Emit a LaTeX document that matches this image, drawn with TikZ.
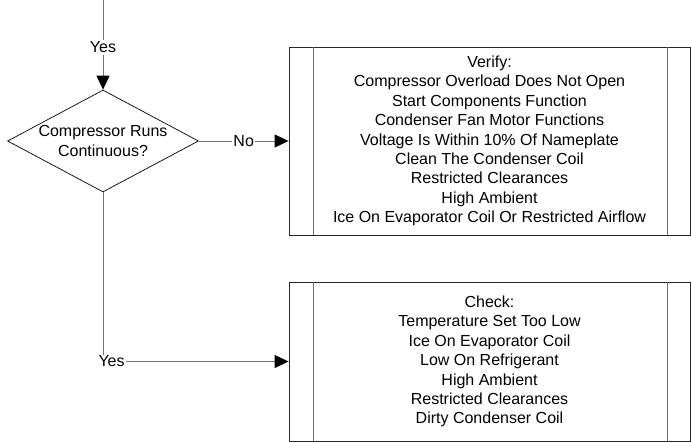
\documentclass[tikz,border=0pt]{standalone}
\usepackage{fontspec}
\setmainfont{Liberation Sans}
\usetikzlibrary{shapes.geometric,arrows.meta}
\begin{document}
\begin{tikzpicture}[x=1pt,y=-1pt,
  txt/.style={font=\fontsize{16}{19.4}\selectfont, align=center, text=black},
  conn/.style={draw=black!55, line width=1pt},
  tipped/.style={-{Triangle[length=14pt,width=13pt,color=black,fill=black]}},
  lbl/.style={txt, fill=white, inner sep=2pt},
  procbox/.style={txt, draw=black!85, line width=0.9pt, rectangle, inner sep=0pt},
  sidebar/.style={draw=black!55, line width=1.3pt},
  decision/.style={txt, draw=black, line width=0.7pt, diamond, shape aspect=1.87, inner sep=0pt, minimum width=191pt, minimum height=102pt}]
\useasboundingbox (0,0) rectangle (691,442);

\node[decision] (dec) at (103,141) {Compressor Runs\\Continuous?};

\node[procbox, minimum width=401pt, minimum height=188pt] (verify) at (489.5,141) {Verify:\\Compressor Overload Does Not Open\\Start Components Function\\Condenser Fan Motor Functions\\Voltage Is Within 10\% Of Nameplate\\Clean The Condenser Coil\\Restricted Clearances\\High Ambient\\Ice On Evaporator Coil Or Restricted Airflow};
\draw[sidebar] ([xshift=25pt]verify.north west) -- ([xshift=25pt]verify.south west);
\draw[sidebar] ([xshift=-23pt]verify.north east) -- ([xshift=-23pt]verify.south east);

\node[procbox, minimum width=401pt, minimum height=159pt] (check) at (489.5,361.5) {Check:\\Temperature Set Too Low\\Ice On Evaporator Coil\\Low On Refrigerant\\High Ambient\\Restricted Clearances\\Dirty Condenser Coil};
\draw[sidebar] ([xshift=25pt]check.north west) -- ([xshift=25pt]check.south west);
\draw[sidebar] ([xshift=-23pt]check.north east) -- ([xshift=-23pt]check.south east);

\coordinate (start) at (103,0);
\draw[conn,tipped] (start) -- (dec.north) node[lbl, pos=0.53] {Yes};
\draw[conn,tipped] (dec.east) -- (verify.west) node[lbl, inner sep=1pt, midway] {No};
\draw[conn,tipped] (dec.south) |- (check.west) node[lbl, inner sep=1pt, pos=0.5, anchor=west, xshift=-6pt] {Yes};
\end{tikzpicture}
\end{document}
